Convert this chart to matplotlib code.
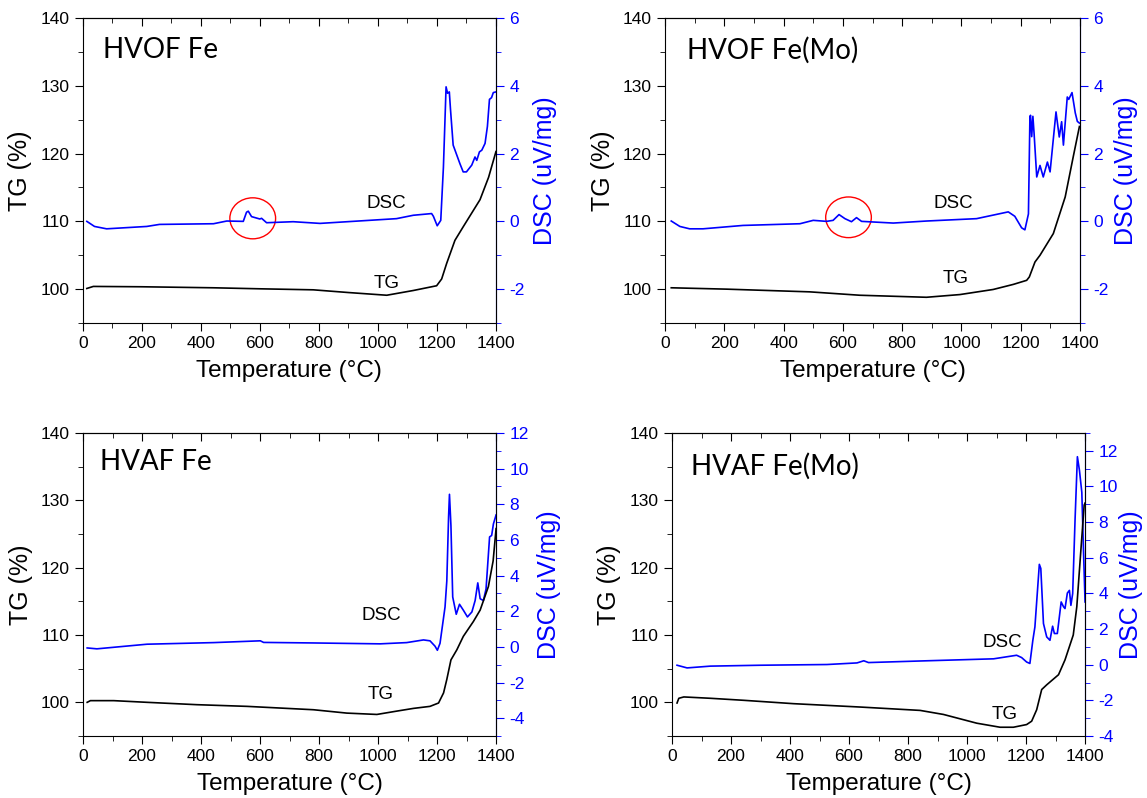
import numpy as np
import matplotlib
matplotlib.use('Agg')
import matplotlib.pyplot as plt
from matplotlib.patches import Ellipse
from matplotlib.ticker import MultipleLocator

plt.rcParams['font.family'] = ['Liberation Sans', 'DejaVu Sans']
plt.rcParams['axes.unicode_minus'] = False

# --- HVOF Fe ---
hvof_fe_tg_t = [14, 36, 200, 443, 600, 781, 900, 1030, 1120, 1199, 1216, 1233, 1261, 1289, 1346, 1375, 1400]
hvof_fe_tg = [100.1, 100.4, 100.35, 100.2, 100.05, 99.9, 99.5, 99.1, 99.8, 100.5, 101.5, 103.8, 107.2, 109.2, 113.2, 116.5, 120.3]
hvof_fe_dsc_t = [14, 40, 81, 217, 260, 443, 488, 544, 555, 561, 572, 600, 606, 623, 713, 804, 1063, 1120, 1182, 1188,
                 1201, 1213, 1222, 1231, 1236, 1242, 1246, 1255, 1278, 1289, 1300, 1318, 1329, 1335, 1344, 1352, 1363,
                 1371, 1378, 1385, 1391, 1400]
hvof_fe_dsc = [0.0, -0.15, -0.22, -0.15, -0.09, -0.07, 0.01, 0.0, 0.27, 0.3, 0.14, 0.07, 0.09, -0.04, -0.01, -0.06, 0.08,
               0.18, 0.23, 0.15, -0.13, 0.03, 1.6, 3.97, 3.78, 3.82, 3.3, 2.25, 1.7, 1.46, 1.46, 1.66, 1.9, 1.8, 2.05, 2.1,
               2.3, 2.8, 3.6, 3.65, 3.8, 3.82]

# --- HVOF Fe(Mo) ---
hvof_mo_tg_t = [21, 207, 488, 657, 882, 995, 1107, 1175, 1220, 1229, 1248, 1265, 1310, 1350, 1377, 1398]
hvof_mo_tg = [100.2, 100.0, 99.6, 99.1, 98.8, 99.2, 99.95, 100.7, 101.3, 101.8, 104.0, 105.0, 108.2, 113.6, 119.5, 124.0]
hvof_mo_dsc_t = [21, 50, 83, 128, 263, 455, 500, 545, 567, 587, 607, 629, 646, 663, 770, 882, 1051, 1158, 1180, 1203,
                 1214, 1226, 1231, 1233, 1237, 1241, 1245, 1254, 1265, 1276, 1290, 1299, 1319, 1330, 1338, 1344, 1357,
                 1362, 1373, 1384, 1391, 1398]
hvof_mo_dsc = [0.01, -0.15, -0.22, -0.22, -0.12, -0.07, 0.03, 0.0, 0.03, 0.2, 0.08, -0.01, 0.11, 0.0, -0.05, 0.01, 0.08,
               0.28, 0.15, -0.19, -0.25, 0.22, 3.08, 3.13, 2.5, 3.1, 2.6, 1.31, 1.65, 1.31, 1.75, 1.46, 3.23, 2.49, 2.94,
               2.25, 3.67, 3.6, 3.8, 3.2, 2.95, 2.9]

# --- HVAF Fe ---
hvaf_fe_tg_t = [14, 25, 104, 217, 386, 556, 781, 894, 996, 1064, 1120, 1176, 1205, 1222, 1233, 1247, 1267, 1289, 1323,
                1346, 1374, 1390, 1400]
hvaf_fe_tg = [100.0, 100.25, 100.25, 100.0, 99.65, 99.4, 98.9, 98.4, 98.2, 98.7, 99.1, 99.4, 99.9, 101.4, 103.4, 106.3,
              107.8, 109.8, 112.0, 113.7, 117.2, 121.0, 125.8]
hvaf_fe_dsc_t = [14, 47, 217, 443, 601, 612, 781, 1007, 1097, 1154, 1176, 1193, 1201, 1210, 1227, 1233, 1239, 1242, 1247,
                 1253, 1265, 1276, 1289, 1303, 1318, 1329, 1338, 1346, 1357, 1366, 1378, 1385, 1391, 1400]
hvaf_fe_dsc = [-0.06, -0.11, 0.15, 0.24, 0.34, 0.25, 0.22, 0.17, 0.24, 0.39, 0.34, 0.04, -0.19, 0.2, 2.24, 3.7, 7.3, 8.56,
               6.8, 2.8, 1.83, 2.39, 2.06, 1.68, 1.96, 2.6, 3.59, 2.7, 2.6, 3.25, 6.17, 6.25, 6.9, 7.4]

# --- HVAF Fe(Mo) ---
hvaf_mo_tg_t = [17, 23, 40, 130, 243, 412, 638, 841, 920, 1033, 1112, 1157, 1202, 1219, 1236, 1253, 1270, 1310, 1332,
                1360, 1372, 1385, 1397, 1400]
hvaf_mo_tg = [99.9, 100.6, 100.8, 100.6, 100.3, 99.8, 99.3, 98.8, 98.2, 96.9, 96.3, 96.3, 96.7, 97.2, 98.9, 101.9, 102.6,
              104.1, 106.3, 110.0, 114.2, 122.1, 129.3, 129.6]
hvaf_mo_dsc_t = [17, 51, 130, 299, 525, 627, 650, 666, 864, 1090, 1168, 1185, 1202, 1213, 1223, 1230, 1245, 1250, 1259,
                 1270, 1281, 1290, 1296, 1306, 1319, 1327, 1332, 1340, 1347, 1352, 1358, 1366, 1374, 1381, 1389, 1394, 1400]
hvaf_mo_dsc = [-0.03, -0.18, -0.08, -0.03, 0.01, 0.1, 0.22, 0.12, 0.22, 0.33, 0.53, 0.4, 0.15, 0.07, 1.37, 2.12, 5.63,
               5.4, 2.31, 1.56, 1.37, 2.16, 1.75, 1.75, 3.52, 3.25, 3.15, 4.02, 4.17, 3.33, 3.99, 8.09, 11.67, 10.9, 9.67,
               6.78, 3.52]

titles = ['HVOF Fe', 'HVOF Fe(Mo)', 'HVAF Fe', 'HVAF Fe(Mo)']
blue = '#0000ff'

fig = plt.figure(figsize=(11.47, 7.98), dpi=100)


def panel(rect, title, tg_t, tg, dsc_t, dsc, dsc_lim, dsc_step, title_xy, dsc_lab, tg_lab, circle=None, rpad=6):
    ax = fig.add_axes(rect)
    ax2 = ax.twinx()
    ax.set_zorder(ax2.get_zorder() + 1)
    ax.patch.set_visible(False)

    ax.plot(tg_t, tg, color='black', lw=1.2)
    ax2.plot(dsc_t, dsc, color=blue, lw=1.2)

    ax.set_xlim(0, 1400)
    ax.set_ylim(95, 140)
    ax2.set_ylim(*dsc_lim)

    ax.xaxis.set_major_locator(MultipleLocator(200))
    ax.xaxis.set_minor_locator(MultipleLocator(100))
    ax.yaxis.set_major_locator(MultipleLocator(10))
    ax.yaxis.set_minor_locator(MultipleLocator(5))
    ax2.yaxis.set_major_locator(MultipleLocator(dsc_step))
    ax2.yaxis.set_minor_locator(MultipleLocator(dsc_step / 2))

    ax.tick_params(axis='x', which='both', direction='out', labelsize=12.5)
    ax.tick_params(axis='x', which='major', length=6)
    ax.tick_params(axis='x', which='minor', length=3.5)
    ax.tick_params(axis='y', which='major', length=6, labelsize=12.5)
    ax.tick_params(axis='y', which='minor', length=3.5)
    ax2.tick_params(axis='y', which='major', length=6, color=blue, labelcolor=blue, labelsize=12.5)
    ax2.tick_params(axis='y', which='minor', length=3.5, color=blue)
    ax2.spines['right'].set_color(blue)
    for s in ['top', 'bottom', 'left']:
        ax2.spines[s].set_visible(False)

    # top ticks point inward
    top = ax.secondary_xaxis('top')
    top.xaxis.set_major_locator(MultipleLocator(200))
    top.xaxis.set_minor_locator(MultipleLocator(100))
    top.tick_params(axis='x', which='both', direction='in', labeltop=False)
    top.tick_params(axis='x', which='major', length=6)
    top.tick_params(axis='x', which='minor', length=3.5)

    ax.set_xlabel('Temperature (\u00b0C)', fontsize=17.5, labelpad=6)
    ax.set_ylabel('TG (%)', fontsize=18, labelpad=6)
    ax2.set_ylabel('DSC (uV/mg)', fontsize=18, color=blue, labelpad=rpad)

    ax.text(title_xy[0], title_xy[1], title, transform=ax.transAxes, fontsize=20,
            family=['Lato', 'DejaVu Sans'], va='center', ha='left')
    ax2.text(dsc_lab[0], dsc_lab[1], 'DSC', fontsize=13.5, ha='center', va='center')
    ax.text(tg_lab[0], tg_lab[1], 'TG', fontsize=13.5, ha='center', va='center')

    if circle is not None:
        ax2.add_patch(Ellipse(circle[:2], circle[2], circle[3], fill=False, ec='red', lw=1.0))
    return ax, ax2


a1 = panel([0.0721, 0.5952, 0.3603, 0.3822], titles[0], hvof_fe_tg_t, hvof_fe_tg, hvof_fe_dsc_t, hvof_fe_dsc,
           (-3, 6), 2, (0.048, 0.895), (1030, 0.53), (1030, 100.9), circle=(576, 0.09, 155, 1.21))
a2 = panel([0.5798, 0.5952, 0.3618, 0.3822], titles[1], hvof_mo_tg_t, hvof_mo_tg, hvof_mo_dsc_t, hvof_mo_dsc,
           (-3, 6), 2, (0.053, 0.895), (972, 0.53), (981, 101.5), circle=(619, 0.12, 154, 1.2), rpad=4)
a3 = panel([0.0724, 0.0777, 0.3601, 0.3797], titles[2], hvaf_fe_tg_t, hvaf_fe_tg, hvaf_fe_dsc_t, hvaf_fe_dsc,
           (-5, 12), 2, (0.042, 0.905), (1010, 1.74), (1010, 101.2))
a4 = panel([0.5859, 0.0777, 0.3601, 0.3797], titles[3], hvaf_mo_tg_t, hvaf_mo_tg, hvaf_mo_dsc_t, hvaf_mo_dsc,
           (-4, 13), 2, (0.046, 0.889), (1121, 1.27), (1126, 98.2), rpad=1)

fig.savefig('out.png', dpi=100)
